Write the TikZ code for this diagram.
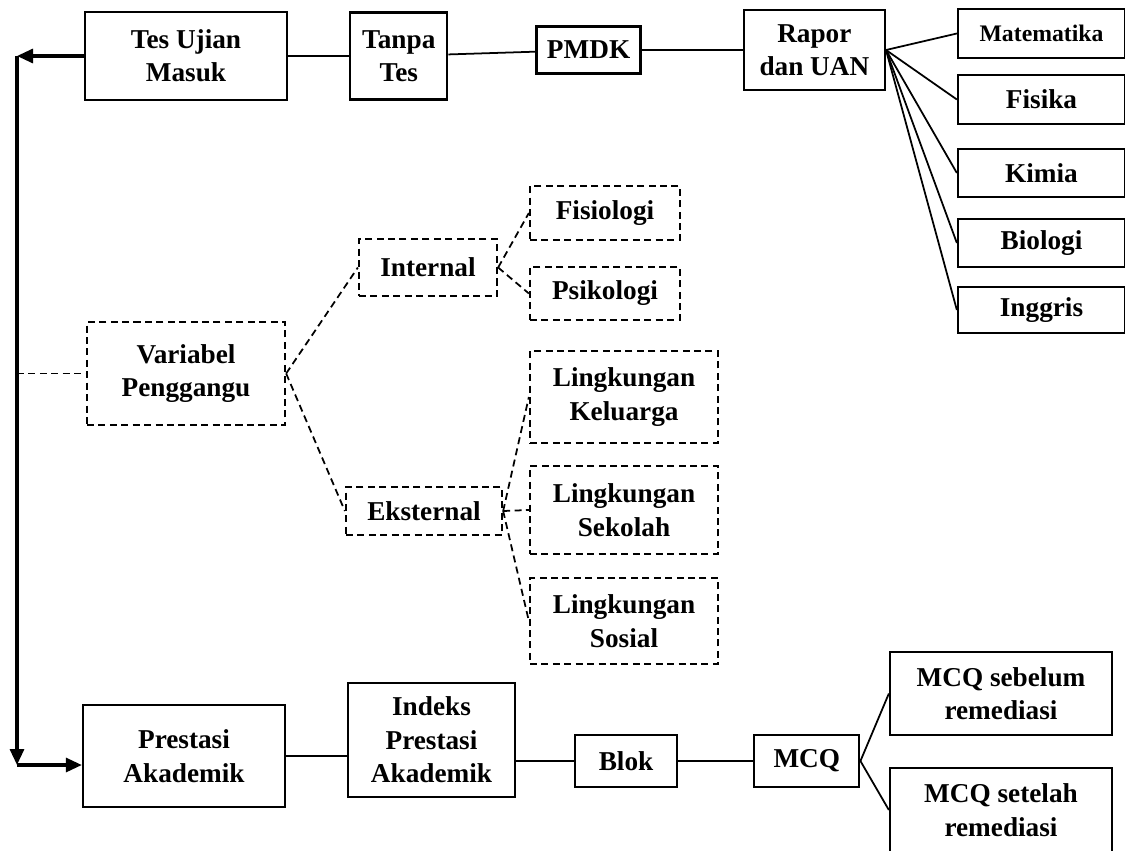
\documentclass[tikz,border=0pt]{standalone}
\usepackage{fontspec}
\setmainfont{Liberation Serif}
\usetikzlibrary{arrows.meta,positioning}
\tikzset{
  solidbox/.style={draw,line width=1.3pt,inner sep=0pt,align=center,
    font=\bfseries\fontsize{15.5}{19}\selectfont},
  dashbox/.style={solidbox,dash pattern=on 4pt off 2.5pt},
  link/.style={line width=1pt},
  dashlink/.style={link,dash pattern=on 4pt off 2.5pt},
  arrow/.style={-{Triangle[length=0.32cm,width=0.28cm]},line width=1.8pt}
}

\begin{document}
\begin{tikzpicture}
  \useasboundingbox (0,0) rectangle (22.5,-17);
  % top row
  \node[solidbox,minimum width=4.04cm,minimum height=1.76cm] (tes) at (3.72,-1.12) {Tes Ujian\\Masuk};
  \node[solidbox,minimum width=1.94cm,minimum height=1.74cm,right=1.22cm of tes] (tanpa) {Tanpa\\Tes};
  \node[solidbox,minimum width=2.08cm,minimum height=0.94cm,right=1.74cm of tanpa,yshift=0.12cm] (pmdk) {PMDK};
  \node[solidbox,minimum width=2.82cm,minimum height=1.6cm,right=2.02cm of pmdk] (rapor) {Rapor\\dan UAN};
  % subjects
  \node[solidbox,minimum width=3.34cm,minimum height=0.98cm,font=\bfseries\fontsize{13.5}{16}\selectfont] (mat) at (20.83,-0.67) {Matematika};
  \node[solidbox,minimum width=3.34cm,minimum height=0.98cm] (fis) at (20.83,-1.99) {Fisika};
  \node[solidbox,minimum width=3.34cm,minimum height=0.96cm] (kim) at (20.83,-3.46) {Kimia};
  \node[solidbox,minimum width=3.34cm,minimum height=0.96cm] (bio) at (20.83,-4.86) {Biologi};
  \node[solidbox,minimum width=3.34cm,minimum height=0.92cm] (ing) at (20.83,-6.2) {Inggris};
  % variabel penggangu
  \node[dashbox,minimum width=3.96cm,minimum height=2.06cm] (var) at (3.72,-7.47) {Variabel\\Penggangu};
  \node[dashbox,minimum width=2.76cm,minimum height=1.14cm] (int) at (8.56,-5.35) {Internal};
  \node[dashbox,minimum width=3cm,minimum height=1.08cm] (fisio) at (12.1,-4.26) {Fisiologi};
  \node[dashbox,minimum width=3cm,minimum height=1.06cm] (psiko) at (12.1,-5.87) {Psikologi};
  \node[dashbox,minimum width=3.12cm,minimum height=0.96cm] (eks) at (8.48,-10.22) {Eksternal};
  \node[dashbox,minimum width=3.76cm,minimum height=1.84cm] (kel) at (12.48,-7.94) {Lingkungan\\Keluarga};
  \node[dashbox,minimum width=3.76cm,minimum height=1.76cm] (sek) at (12.48,-10.2) {Lingkungan\\Sekolah};
  \node[dashbox,minimum width=3.76cm,minimum height=1.72cm] (sos) at (12.48,-12.42) {Lingkungan\\Sosial};
  % bottom row
  \node[solidbox,minimum width=4.04cm,minimum height=2.04cm] (pres) at (3.68,-15.12) {Prestasi\\Akademik};
  \node[solidbox,minimum width=3.34cm,minimum height=2.28cm] (ipk) at (8.63,-14.8) {Indeks\\Prestasi\\Akademik};
  \node[solidbox,minimum width=2.04cm,minimum height=1.04cm] (blok) at (12.52,-15.22) {Blok};
  \node[solidbox,minimum width=2.1cm,minimum height=1.04cm,right=1.5cm of blok] (mcq) {MCQ};
  \node[solidbox,minimum width=4.44cm,minimum height=1.66cm] (pre) at (20.02,-13.87) {MCQ sebelum\\remediasi};
  \node[solidbox,minimum width=4.44cm,minimum height=1.68cm] (post) at (20.02,-16.2) {MCQ setelah\\remediasi};

  \coordinate (topc) at (0.34,-1.12);
  \coordinate (botc) at (0.34,-15.3);
  \coordinate (midc) at (topc |- var.west);

  % connectors
  \draw[arrow] (tes.west) -- (topc);
  \draw[arrow] (topc) -- (botc);
  \draw[arrow] (botc) -- (botc -| pres.west);
  \draw[link] (tes) -- (tanpa);
  \draw[link] (tanpa) -- (pmdk);
  \draw[link] (pmdk) -- (rapor);
  \foreach \s in {mat,fis,kim,bio,ing}
    \draw[link] (rapor.east) -- (\s.west);
  \draw[dashlink] (midc) -- (var.west);
  \draw[dashlink] (var.east) -- (int.west);
  \draw[dashlink] (var.east) -- (eks.west);
  \draw[dashlink] (int.east) -- (fisio.west);
  \draw[dashlink] (int.east) -- (psiko.west);
  \foreach \s in {kel,sek,sos}
    \draw[dashlink] (eks.east) -- (\s.west);
  \draw[link] (pres.east) -- (pres.east -| ipk.west);
  \draw[link] (ipk.east |- blok.west) -- (blok.west);
  \draw[link] (blok) -- (mcq);
  \draw[link] (mcq.east) -- (pre.west);
  \draw[link] (mcq.east) -- (post.west);
\end{tikzpicture}
\end{document}
